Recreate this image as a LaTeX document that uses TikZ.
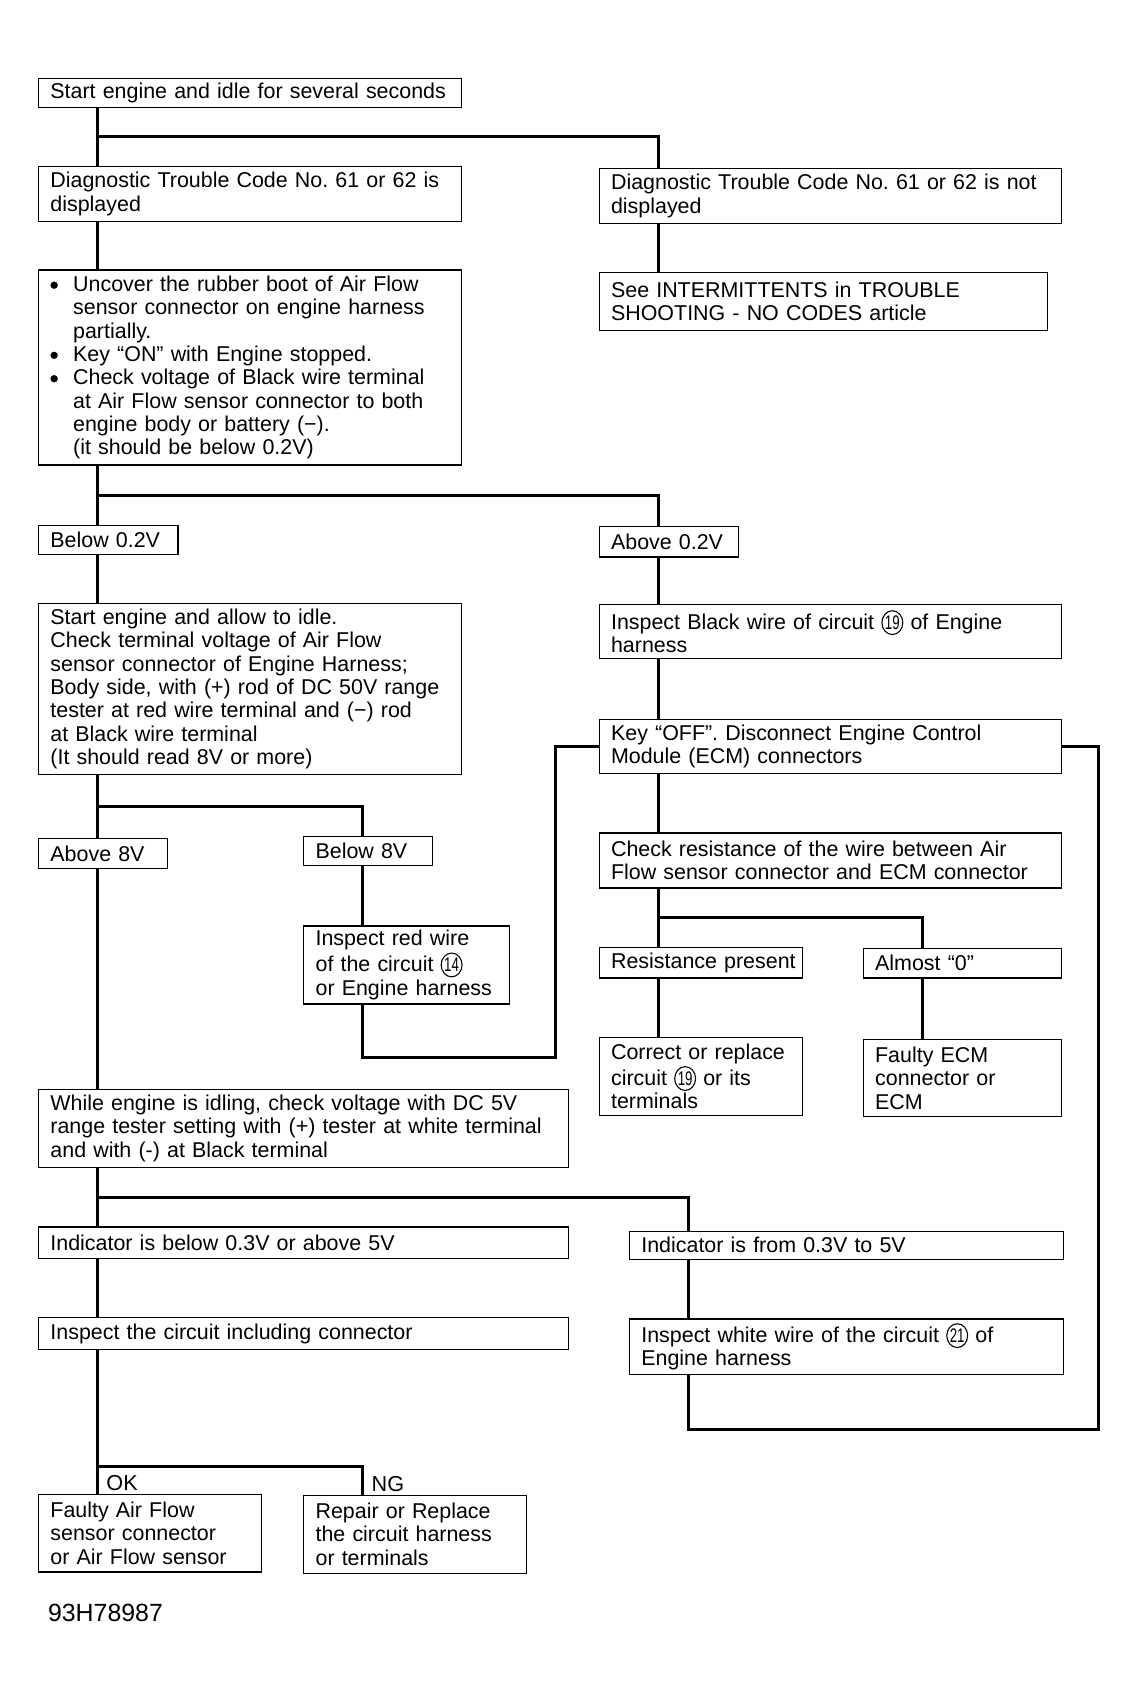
\documentclass[tikz,border=0pt]{standalone}
\usepackage{fontspec}
\usepackage{graphicx}
\setmainfont{Liberation Sans}
\usetikzlibrary{positioning,calc,shapes.geometric}

\newcommand{\bul}{\makebox[10.5pt][l]{\tikz[baseline=-2.8pt]\fill[draw=none] (0,0) circle (1.7pt);}}
\newcommand{\ind}{\hspace*{10.5pt}}
\newcommand{\cnum}[1]{\tikz[baseline=(cn.base)]\node[draw,ellipse,line width=0.5pt,
  inner sep=0pt,minimum width=7pt,minimum height=11pt,text width={},
  align=center,anchor=center](cn){\scalebox{0.62}[0.92]{#1}};}
\newcommand{\tk}{27.5pt}

\tikzset{
  stepbox/.style={draw, line width=0.6pt, anchor=north west, align=left,
    inner xsep=5.5pt, inner ysep=2pt, font=\fontsize{9.9}{10.8}\selectfont\frenchspacing},
  conn/.style={line width=1.4pt},
}

\begin{document}
\begin{tikzpicture}[x=0.5pt,y=-0.5pt]
  \useasboundingbox (0,0) rectangle (1052,1568);

  % left column
  \node[stepbox, text width=184.5pt, minimum height=13pt] (start) at (35,72)
    {\makebox[184.5pt][l]{Start engine and idle for several seconds}};
  \node[stepbox, text width=184.5pt, minimum height=25.5pt] (dtc) at (35,153)
    {Diagnostic Trouble Code No. 61 or 62 is\\displayed};
  \node[stepbox, text width=184.5pt, minimum height=90pt] (uncover) at (35,249)
    {\bul Uncover the rubber boot of Air Flow\\
     \ind sensor connector on engine harness\\
     \ind partially.\\
     \bul Key “ON” with Engine stopped.\\
     \bul Check voltage of Black wire terminal\\
     \ind at Air Flow sensor connector to both\\
     \ind engine body or battery (−).\\
     \ind (it should be below 0.2V)};
  \node[stepbox, text width=53.5pt, minimum height=13.5pt] (below02) at (35,485)
    {Below 0.2V};
  \node[stepbox, text width=184.5pt, minimum height=79pt] (idle) at (35,557)
    {Start engine and allow to idle.\\
     Check terminal voltage of Air Flow\\
     sensor connector of Engine Harness;\\
     Body side, with (+) rod of DC 50V range\\
     tester at red wire terminal and (−) rod\\
     at Black wire terminal\\
     (It should read 8V or more)};
  \node[stepbox, text width=48.5pt, minimum height=14pt] (above8) at (35,774)
    {Above 8V};
  \node[stepbox, text width=48.5pt, minimum height=13.5pt] (below8) at (280,772)
    {Below 8V};
  \node[stepbox, text width=84pt, minimum height=36pt] (redwire) at (280,855)
    {Inspect red wire\\of the circuit \cnum{14}\\or Engine harness};
  \node[stepbox, text width=234pt, minimum height=36pt] (idling) at (35,1006)
    {While engine is idling, check voltage with DC 5V\\
     range tester setting with (+) tester at white terminal\\
     and with (-) at Black terminal};
  \node[stepbox, text width=234pt, minimum height=14.5pt] (indbelow) at (35,1133)
    {Indicator is below 0.3V or above 5V};
  \node[stepbox, text width=234pt, minimum height=14.5pt] (inspcirc) at (35,1217)
    {Inspect the circuit including connector};
  \node[stepbox, text width=92pt, minimum height=36pt] (faultyaf) at (35,1380)
    {Faulty Air Flow\\sensor connector\\or Air Flow sensor};
  \node[stepbox, text width=92pt, minimum height=36pt] (repair) at (280,1381)
    {Repair or Replace\\the circuit harness\\or terminals};

  % right column
  \node[stepbox, text width=202.5pt, minimum height=25.5pt] (dtcno) at (553,155)
    {Diagnostic Trouble Code No. 61 or 62 is not\\displayed};
  \node[stepbox, text width=196pt, minimum height=27pt] (intermit) at (553,251)
    {See INTERMITTENTS in TROUBLE\\SHOOTING - NO CODES article};
  \node[stepbox, text width=53.5pt, minimum height=14pt] (above02) at (553,486)
    {Above 0.2V};
  \node[stepbox, text width=202.5pt, minimum height=25pt] (inspblack) at (553,558)
    {Inspect Black wire of circuit \cnum{19} of Engine\\harness};
  \node[stepbox, text width=202.5pt, minimum height=25pt] (keyoff) at (553,664)
    {Key “OFF”. Disconnect Engine Control\\Module (ECM) connectors};
  \node[stepbox, text width=202.5pt, minimum height=25.5pt] (resist) at (553,769)
    {Check resistance of the wire between Air\\Flow sensor connector and ECM connector};
  \node[stepbox, text width=83pt, minimum height=14pt] (respres) at (553,875)
    {\makebox[83pt][l]{Resistance present}};
  \node[stepbox, text width=80.5pt, minimum height=13.5pt] (almost) at (797,876)
    {Almost “0”};
  \node[stepbox, text width=83pt, minimum height=36pt] (correct) at (553,958)
    {Correct or replace\\circuit \cnum{19} or its\\terminals};
  \node[stepbox, text width=80.5pt, minimum height=35.5pt] (faultyecm) at (797,960)
    {Faulty ECM\\connector or\\ECM};
  \node[stepbox, text width=189.5pt, minimum height=13pt] (indfrom) at (581,1137)
    {Indicator is from 0.3V to 5V};
  \node[stepbox, text width=189.5pt, minimum height=25.5pt] (whitewire) at (581,1218)
    {Inspect white wire of the circuit \cnum{21} of\\Engine harness};

  \node[anchor=west, inner sep=0pt, font=\fontsize{11.5}{12}\selectfont] (figno)
    at (44,1490) {93H78987};

  % connectors
  \draw[conn] ([xshift=\tk]start.south west) -- ([xshift=\tk]dtc.north west);
  \draw[conn] ($([xshift=\tk]start.south west)!.5!([xshift=\tk]dtc.north west)$)
    -| ([xshift=\tk]dtcno.north west);
  \draw[conn] ([xshift=\tk]dtc.south west) -- ([xshift=\tk]uncover.north west);
  \draw[conn] ([xshift=\tk]dtcno.south west) -- ([xshift=\tk]intermit.north west);
  \draw[conn] ([xshift=\tk]uncover.south west) -- ([xshift=\tk]below02.north west);
  \draw[conn] ($([xshift=\tk]uncover.south west)!.5!([xshift=\tk]below02.north west)$)
    -| ([xshift=\tk]above02.north west);
  \draw[conn] ([xshift=\tk]below02.south west) -- ([xshift=\tk]idle.north west);
  \draw[conn] ([xshift=\tk]above02.south west) -- ([xshift=\tk]inspblack.north west);
  \draw[conn] ([xshift=\tk]inspblack.south west) -- ([xshift=\tk]keyoff.north west);
  \draw[conn] ([xshift=\tk]keyoff.south west) -- ([xshift=\tk]resist.north west);
  \draw[conn] ([xshift=\tk]idle.south west) -- ([xshift=\tk]above8.north west);
  \draw[conn] ($([xshift=\tk]idle.south west)!.5!([xshift=\tk]above8.north west)$)
    -| ([xshift=\tk]below8.north west);
  \draw[conn] ([xshift=\tk]below8.south west) -- ([xshift=\tk]redwire.north west);
  \draw[conn] ([xshift=\tk]resist.south west) -- ([xshift=\tk]respres.north west);
  \draw[conn] ($([xshift=\tk]resist.south west)!.5!([xshift=\tk]respres.north west)$)
    -| ([xshift=\tk]almost.north west);
  \draw[conn] ([xshift=\tk]respres.south west) -- ([xshift=\tk]correct.north west);
  \draw[conn] ([xshift=\tk]almost.south west) -- ([xshift=\tk]faultyecm.north west);
  \draw[conn] ([xshift=\tk]above8.south west) -- ([xshift=\tk]idling.north west);
  \draw[conn] ([xshift=\tk]idling.south west) -- ([xshift=\tk]indbelow.north west);
  \draw[conn] ($([xshift=\tk]idling.south west)!.5!([xshift=\tk]indbelow.north west)$)
    -| ([xshift=\tk]indfrom.north west);
  \draw[conn] ([xshift=\tk]indbelow.south west) -- ([xshift=\tk]inspcirc.north west);
  \draw[conn] ([xshift=\tk]indfrom.south west) -- ([xshift=\tk]whitewire.north west);
  \draw[conn] ([xshift=\tk]inspcirc.south west) -- ([xshift=\tk]faultyaf.north west);
  \draw[conn] ($([xshift=\tk]inspcirc.south west)!.81!([xshift=\tk]faultyaf.north west)$)
    -| ([xshift=\tk]repair.north west);

  % loops back to Key OFF
  \coordinate (loopA) at (513,977);
  \coordinate (loopB) at (1015,1321);
  \draw[conn] ([xshift=\tk]redwire.south west) |- (loopA) |- (keyoff.west);
  \draw[conn] (keyoff.east) -| (loopB) -| ([xshift=\tk]whitewire.south west);

  \node[anchor=south west, inner sep=1pt, xshift=3pt,
    font=\fontsize{10}{10.8}\selectfont] (ok) at ([xshift=\tk]faultyaf.north west) {OK};
  \node[anchor=south west, inner sep=1pt, xshift=3pt,
    font=\fontsize{10}{10.8}\selectfont] (ng) at ([xshift=\tk]repair.north west) {NG};
\end{tikzpicture}
\end{document}
